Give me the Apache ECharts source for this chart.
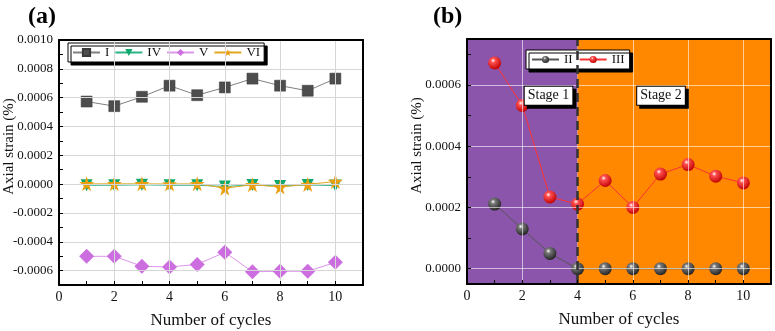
<!DOCTYPE html>
<html>
<head>
<meta charset="utf-8">
<script src="https://cdn.jsdelivr.net/npm/echarts@6/dist/echarts.min.js"></script>
<style>
  html, body { margin: 0; padding: 0; background: #fff; }
  #chart { width: 775px; height: 331px; }
</style>
</head>
<body>
<div id="chart"></div>
<script>
var cycles = [1, 2, 3, 4, 5, 6, 7, 8, 9, 10];

// panel (a)
var strainI  = [0.000573, 0.000541, 0.000606, 0.000683, 0.000617, 0.000671, 0.000732, 0.000683, 0.000648, 0.000732];
var strainIV = [-0.000008, -0.000008, -0.000005, -0.000008, -0.000008, -0.000016, -0.000006, -0.000013, -0.000006, -0.000010];
var strainV  = [-0.000501, -0.000501, -0.000570, -0.000575, -0.000557, -0.000473, -0.000608, -0.000605, -0.000605, -0.000543];
var strainVI = [0.000002, 0.000002, 0.000002, 0.000001, 0.000002, -0.000028, -0.000004, -0.000020, -0.000002, 0.000018];

// panel (b)
var strainII  = [0.000211, 0.000130, 0.000050, 0, 0, 0, 0, 0, 0, 0];
var strainIII = [0.000672, 0.000533, 0.000234, 0.000211, 0.000288, 0.000200, 0.000309, 0.000340, 0.000302, 0.000280];

var xTicks = [0, 1, 2, 3, 4, 5, 6, 7, 8, 9, 10, 11];
var xLabels = [0, 2, 4, 6, 8, 10];
var yLabelsA = [-0.0006, -0.0004, -0.0002, 0, 0.0002, 0.0004, 0.0006, 0.0008, 0.0010];
var yTicksA = [-0.0007, -0.0006, -0.0005, -0.0004, -0.0003, -0.0002, -0.0001, 0, 0.0001, 0.0002, 0.0003, 0.0004, 0.0005, 0.0006, 0.0007, 0.0008, 0.0009, 0.0010];
var yLabelsB = [0, 0.0002, 0.0004, 0.0006];
var yTicksB = [0, 0.0001, 0.0002, 0.0003, 0.0004, 0.0005, 0.0006, 0.0007];
var stageSplit = 4;

function pairs(vals) {
  return vals.map(function (v, i) { return [cycles[i], v]; });
}

var serif = 'Liberation Serif';
var star = 'path://M50,0 L61,35 L98,35 L68,57 L79,91 L50,70 L21,91 L32,57 L2,35 L39,35 Z';

function ball(light, mid, dark) {
  return {
    type: 'radial', x: 0.38, y: 0.32, r: 0.7,
    colorStops: [
      { offset: 0, color: light },
      { offset: 0.25, color: mid },
      { offset: 1, color: dark }
    ]
  };
}

function bottomX(grid) {
  return {
    gridIndex: grid, type: 'value', min: 0, max: 11, z: 10,
    name: 'Number of cycles', nameLocation: 'middle', nameGap: 27, nameMoveOverlap: false,
    nameTextStyle: { fontFamily: serif, fontSize: 17, color: '#111' },
    axisLine: { onZero: false, lineStyle: { color: '#000', width: 2 } },
    axisTick: { inside: true, length: 4, customValues: xTicks, lineStyle: { color: '#000' } },
    axisLabel: { customValues: xLabels, fontFamily: serif, fontSize: 14, color: '#111', margin: 5 },
    splitLine: { show: false }
  };
}
function leftY(grid, min, max, ticks, labels) {
  return {
    gridIndex: grid, type: 'value', min: min, max: max, z: 10,
    name: 'Axial strain (%)', nameLocation: 'middle', nameGap: 42, nameMoveOverlap: false,
    nameTextStyle: { fontFamily: serif, fontSize: 15, color: '#111', padding: [0, 0, 0, 32] },
    axisLine: { onZero: false, lineStyle: { color: '#000', width: 2 } },
    axisTick: { inside: true, length: 4, customValues: ticks, lineStyle: { color: '#000' } },
    axisLabel: {
      customValues: labels, fontFamily: serif, fontSize: 13, color: '#111', margin: 6,
      formatter: function (v) { return v.toFixed(4); }
    },
    splitLine: { show: false }
  };
}
function frame(grid, pos, min, max) {
  return {
    gridIndex: grid, type: 'value', position: pos, min: min, max: max, z: 10,
    axisLine: { show: true, onZero: false, lineStyle: { color: '#000', width: 2 } },
    axisTick: { show: false }, axisLabel: { show: false }, splitLine: { show: false }
  };
}

// vertical lines at xs, horizontal lines at ys spanning [x0, x1]
function gridLines(xs, ys, x0, x1, color) {
  var d = [];
  xs.forEach(function (x) { d.push({ xAxis: x }); });
  ys.forEach(function (y) { d.push([{ coord: [x0, y] }, { coord: [x1, y] }]); });
  return {
    silent: true, symbol: 'none', label: { show: false }, precision: 10,
    lineStyle: { color: color, width: 1, type: 'solid' },
    emphasis: { disabled: true },
    data: d
  };
}

var chart = echarts.init(document.getElementById('chart'));
var option = {
  animation: false,
  backgroundColor: '#fff',
  title: [
    { text: '(a)', left: 23, top: 0, textStyle: { fontFamily: serif, fontWeight: 'bold', fontSize: 24, color: '#000' } },
    { text: '(b)', left: 428, top: 0, textStyle: { fontFamily: serif, fontWeight: 'bold', fontSize: 24, color: '#000' } }
  ],
  grid: [
    { left: 59, top: 40, width: 304, height: 245, outerBoundsMode: 'none' },
    { left: 467, top: 39, width: 304, height: 245, outerBoundsMode: 'none' }
  ],
  legend: [
    {
      data: ['I', 'IV', 'V', 'VI'], left: 68, top: 43, orient: 'horizontal',
      itemWidth: 27, itemHeight: 9, itemGap: 5, padding: [3, 4],
      backgroundColor: '#fff', borderColor: '#000', borderWidth: 1,
      shadowColor: '#000', shadowOffsetX: 3, shadowOffsetY: 3, shadowBlur: 0,
      textStyle: { fontFamily: serif, fontSize: 13, color: '#111' }
    },
    {
      data: ['II', 'III'], left: 526, top: 50, orient: 'horizontal',
      itemWidth: 27, itemHeight: 9, itemGap: 6, padding: [3, 5],
      backgroundColor: '#fff', borderColor: '#000', borderWidth: 1,
      shadowColor: '#000', shadowOffsetX: 3, shadowOffsetY: 3, shadowBlur: 0,
      textStyle: { fontFamily: serif, fontSize: 13, color: '#111' }
    }
  ],
  xAxis: [
    bottomX(0), bottomX(1),
    frame(0, 'top', 0, 11), frame(1, 'top', 0, 11)
  ],
  yAxis: [
    leftY(0, -0.0007, 0.0010, yTicksA, yLabelsA),
    leftY(1, -0.00005, 0.00075, yTicksB, yLabelsB),
    frame(0, 'right', -0.0007, 0.0010), frame(1, 'right', -0.00005, 0.00075)
  ],
  series: [
    // panel (a) grid lines
    {
      type: 'line', xAxisIndex: 0, yAxisIndex: 0, data: [], z: 1, silent: true,
      markLine: gridLines([2, 4, 6, 8, 10], [-0.0006, -0.0004, -0.0002, 0, 0.0002, 0.0004, 0.0006, 0.0008], 0, 11, '#d6d6d6')
    },
    {
      name: 'I', type: 'line', xAxisIndex: 0, yAxisIndex: 0, data: pairs(strainI), z: 3,
      symbol: 'rect', symbolSize: 11,
      lineStyle: { color: '#808080', width: 1 },
      itemStyle: { color: '#4d4d4d', borderColor: '#3a3a3a', borderWidth: 0.5 }
    },
    {
      name: 'IV', type: 'line', xAxisIndex: 0, yAxisIndex: 0, data: pairs(strainIV), z: 3,
      symbol: 'triangle', symbolRotate: 180, symbolSize: 12,
      lineStyle: { color: '#2bb384', width: 1 },
      itemStyle: { color: '#0fa86c' }
    },
    {
      name: 'V', type: 'line', xAxisIndex: 0, yAxisIndex: 0, data: pairs(strainV), z: 3,
      symbol: 'diamond', symbolSize: 15,
      lineStyle: { color: '#dc96ea', width: 1 },
      itemStyle: { color: '#cc6ee0' }
    },
    {
      name: 'VI', type: 'line', xAxisIndex: 0, yAxisIndex: 0, data: pairs(strainVI), z: 4,
      symbol: star, symbolSize: 15,
      lineStyle: { color: '#e0a820', width: 1 },
      itemStyle: { color: '#e8a010' }
    },
    // panel (b) stage backgrounds
    {
      type: 'line', xAxisIndex: 1, yAxisIndex: 1, data: [], z: 0, silent: true,
      markArea: {
        silent: true,
        data: [
          [{ xAxis: 0, itemStyle: { color: '#8b55ac' } }, { xAxis: stageSplit }],
          [{ xAxis: stageSplit, itemStyle: { color: '#ff8800' } }, { xAxis: 11 }]
        ]
      }
    },
    {
      type: 'line', xAxisIndex: 1, yAxisIndex: 1, data: [], z: 1, silent: true,
      markLine: gridLines([2, 6, 8, 10], [0, 0.0002, 0.0004, 0.0006], 0, 11, 'rgba(255,255,255,0.6)')
    },
    {
      type: 'line', xAxisIndex: 1, yAxisIndex: 1, data: [], z: 2, silent: true,
      markLine: {
        silent: true, symbol: 'none', label: { show: false },
        lineStyle: { color: '#333', width: 2.5, type: [9, 5] },
        data: [{ xAxis: stageSplit }]
      },
      markPoint: {
        silent: true, symbol: 'circle', symbolSize: 0,
        label: {
          show: true, fontFamily: serif, fontSize: 14, color: '#111',
          backgroundColor: '#fff', borderColor: '#000', borderWidth: 1, padding: [2, 3],
          shadowColor: '#000', shadowOffsetX: 3, shadowOffsetY: 3, shadowBlur: 0,
          formatter: '{b}'
        },
        data: [
          { name: 'Stage 1', coord: [2.95, 0.000565] },
          { name: 'Stage 2', coord: [7.02, 0.000565] }
        ]
      }
    },
    {
      name: 'II', type: 'line', xAxisIndex: 1, yAxisIndex: 1, data: pairs(strainII), z: 3,
      symbol: 'circle', symbolSize: 13,
      lineStyle: { color: '#555', width: 1 },
      itemStyle: { color: ball('#ffffff', '#777777', '#222222') }
    },
    {
      name: 'III', type: 'line', xAxisIndex: 1, yAxisIndex: 1, data: pairs(strainIII), z: 3,
      symbol: 'circle', symbolSize: 13,
      lineStyle: { color: '#ff3030', width: 1 },
      itemStyle: { color: ball('#ffffff', '#ff5050', '#c00000') }
    }
  ]
};
chart.setOption(option);

window.addEventListener('resize', function () {
  chart.resize();
});
</script>
</body>
</html>
